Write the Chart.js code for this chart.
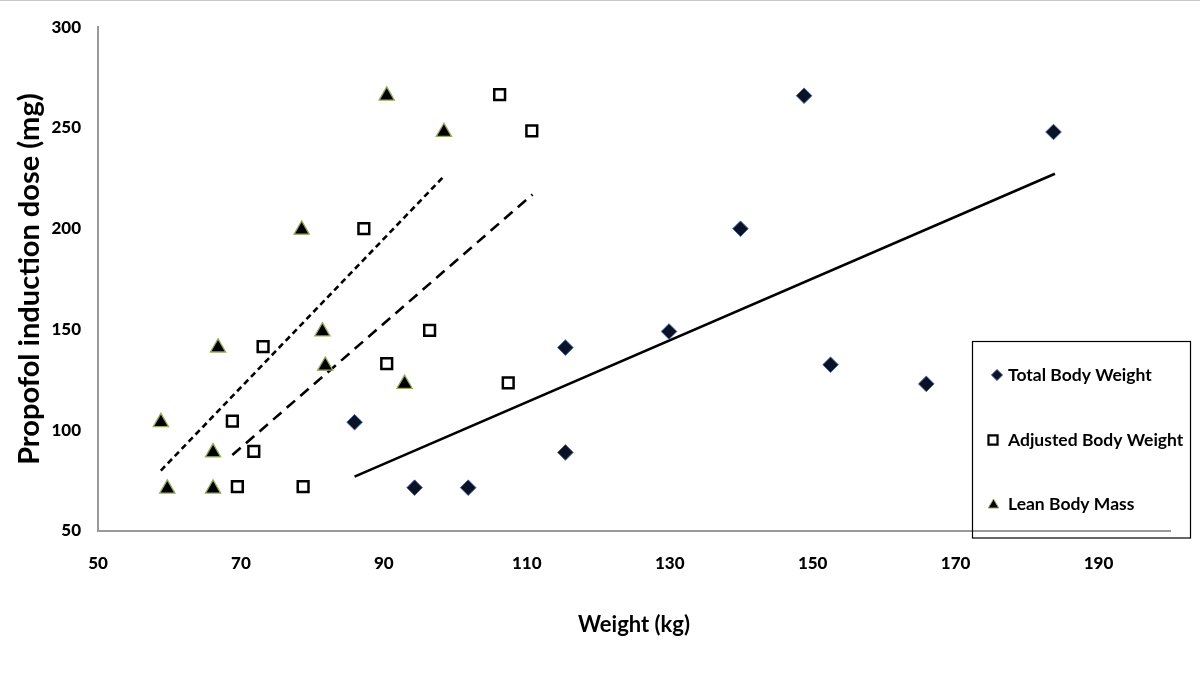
<!DOCTYPE html>
<html>
<head>
<meta charset="utf-8">
<script src="https://cdn.jsdelivr.net/npm/chart.js@4/dist/chart.umd.min.js"></script>
<style>
  html, body { margin: 0; padding: 0; background: #fff; }
  #wrap { position: relative; width: 1200px; height: 683px; }
  canvas { display: block; }
  #topline { position: absolute; left: 0; top: 0; width: 1200px; height: 1px; background: #c8c8c8; }
</style>
</head>
<body>
<div id="wrap"><canvas id="c" width="1200" height="683"></canvas><div id="topline"></div></div>
<script>
// ---- data ----
const xTicks = [50, 70, 90, 110, 130, 150, 170, 190];
const yTicks = [50, 100, 150, 200, 250, 300];
const seriesNames = ['Total Body Weight', 'Adjusted Body Weight', 'Lean Body Mass'];

// Total Body Weight (kg) vs dose (mg)
const tbwX = [85.9, 94.3, 101.8, 115.4, 115.4, 129.9, 139.9, 148.8, 152.5, 165.9, 183.7];
const tbwY = [104, 71.5, 71.5, 141, 89, 149, 200, 266, 132.5, 123, 248];

// Adjusted Body Weight
const abwX = [68.8, 69.5, 78.7, 71.8, 73.1, 96.4, 87.2, 106.2, 90.4, 107.4, 110.7];
const abwY = [104.5, 72, 72, 89.5, 141.5, 149.5, 200, 266.5, 133, 123.5, 248.5];

// Lean Body Mass
const lbmX = [58.8, 59.7, 66.1, 66.1, 66.8, 81.4, 78.5, 90.4, 81.8, 92.9, 98.4];
const lbmY = [104, 71, 71, 89, 141, 149, 199.5, 266, 132, 123, 248];

// Trend line end points
const tbwTrendX = [85.9, 183.9];
const tbwTrendY = [77.0, 227.3];
const abwTrendX = [68.8, 110.8];
const abwTrendY = [87.7, 217.0];
const lbmTrendX = [58.8, 98.4];
const lbmTrendY = [80.0, 226.0];

const xMin = 50, xMax = 200, yMin = 50, yMax = 300;

function pts(xs, ys) { return xs.map((x, i) => ({ x: x, y: ys[i] })); }

const FONT = 'Lato, "Open Sans", "DejaVu Sans", sans-serif';

const styles = [
  { pointStyle: 'rectRot', radius: 7.8, bg: '#0b1126', border: '#46669a', bw: 1 },
  { pointStyle: 'rect', radius: 7.6, bg: '#ffffff', border: '#000000', bw: 2.5 },
  { pointStyle: 'triangle', radius: 8.8, bg: '#000000', border: '#93ab5e', bw: 1.3 }
];

const scatterSets = [pts(tbwX, tbwY), pts(abwX, abwY), pts(lbmX, lbmY)].map((d, i) => ({
  label: seriesNames[i],
  data: d,
  pointStyle: styles[i].pointStyle,
  pointRadius: styles[i].radius,
  pointHoverRadius: styles[i].radius,
  pointBackgroundColor: styles[i].bg,
  pointBorderColor: styles[i].border,
  pointBorderWidth: styles[i].bw,
  showLine: false,
  order: 0
}));

const trendSets = [
  { data: pts(tbwTrendX, tbwTrendY), dash: [] },
  { data: pts(abwTrendX, abwTrendY), dash: [11, 7] },
  { data: pts(lbmTrendX, lbmTrendY), dash: [6, 4] }
].map(t => ({
  label: '',
  data: t.data,
  showLine: true,
  borderColor: '#000',
  borderWidth: 2.6,
  borderDash: t.dash,
  pointRadius: 0,
  pointHoverRadius: 0,
  fill: false,
  order: 1
}));

const legendBox = {
  id: 'legendBox',
  afterDraw(chart) {
    const ctx = chart.ctx;
    ctx.save();
    ctx.strokeStyle = '#000';
    ctx.lineWidth = 1.2;
    ctx.strokeRect(972.5, 341.5, 218, 196.5);
    const rows = [375, 440, 504];
    const mk = [
      { x: 997, r: 5.6, bw: 1 },
      { x: 993, r: 6.4, bw: 2.2 },
      { x: 993.5, r: 6, bw: 1 }
    ];
    rows.forEach((y, i) => {
      const s = styles[i];
      ctx.fillStyle = s.bg;
      ctx.strokeStyle = s.border;
      ctx.lineWidth = mk[i].bw;
      Chart.helpers.drawPoint(ctx, { pointStyle: s.pointStyle, radius: mk[i].r, rotation: 0, borderWidth: mk[i].bw }, mk[i].x, y + (i === 2 ? 1 : 0));
      ctx.fillStyle = '#000';
      ctx.font = 'bold 17.5px ' + FONT;
      ctx.textAlign = 'left';
      ctx.textBaseline = 'middle';
      ctx.fillText(seriesNames[i], 1008, y);
    });
    ctx.restore();
  }
};

new Chart(document.getElementById('c'), {
  type: 'scatter',
  data: { datasets: scatterSets.concat(trendSets) },
  options: {
    responsive: false,
    animation: false,
    devicePixelRatio: 1,
    layout: { padding: { top: 22, right: 30, bottom: 0, left: 0 } },
    plugins: { legend: { display: false }, tooltip: { enabled: false } },
    scales: {
      x: {
        type: 'linear',
        min: xMin, max: xMax,
        afterBuildTicks: s => { s.ticks = xTicks.map(v => ({ value: v })); },
        afterFit: s => { s.height = 152; },
        grid: { display: false, drawTicks: false },
        border: { display: true, color: '#9a9a9a', width: 2 },
        ticks: { padding: 22, color: '#000', font: { family: FONT, size: 17, weight: '900' } },
        title: { display: true, text: 'Weight (kg)', color: '#000', padding: { top: 0, bottom: 45 },
                 font: { family: FONT, size: 22, weight: 'bold' } }
      },
      y: {
        type: 'linear',
        min: yMin, max: yMax,
        afterBuildTicks: s => { s.ticks = yTicks.map(v => ({ value: v })); },
        afterFit: s => { s.width = 98; },
        grid: { display: false, drawTicks: false },
        border: { display: true, color: '#9a9a9a', width: 2 },
        ticks: { padding: 17, color: '#000', font: { family: FONT, size: 17, weight: '900' } },
        title: { display: true, text: 'Propofol induction dose (mg)', color: '#000', padding: { top: 12, bottom: 0 },
                 font: { family: FONT, size: 29, weight: 'bold' } }
      }
    }
  },
  plugins: [legendBox]
});
</script>
</body>
</html>
